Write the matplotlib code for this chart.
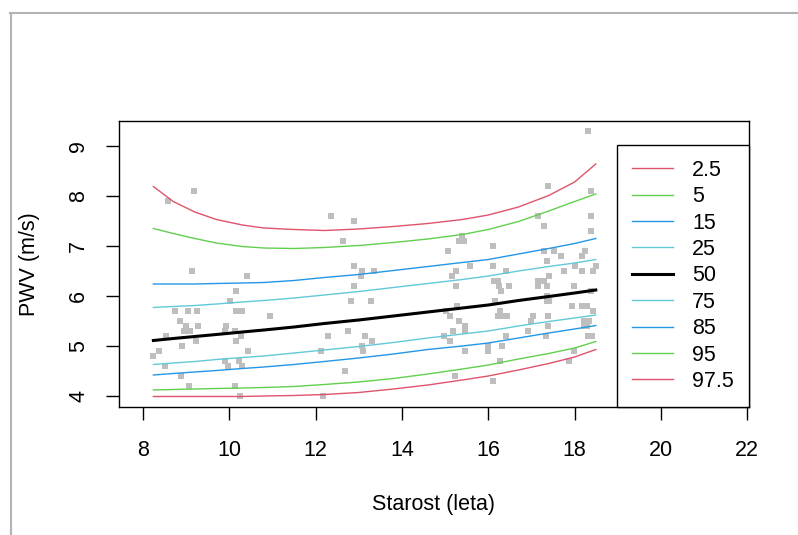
import matplotlib
matplotlib.use('Agg')
import matplotlib.pyplot as plt
from matplotlib.lines import Line2D

plt.rcParams['font.family'] = ['Liberation Sans', 'DejaVu Sans']

# measured points (age, PWV)
age = [9.19, 8.59, 9.13, 10.40, 10.15, 10.01, 8.73, 9.04, 9.25, 10.15, 10.29, 8.86, 9.00, 9.27,
       9.92, 8.96, 9.10, 9.91, 10.14, 8.54, 10.26, 9.22, 10.16, 8.90, 8.38, 10.43, 8.24, 9.89,
       10.23, 8.51, 9.98, 10.29, 8.87, 9.07, 10.13, 10.25,
       12.36, 12.90, 12.64, 12.90, 13.07, 13.05, 13.36, 12.90, 12.82, 13.28, 10.94, 12.74, 12.28,
       13.14, 13.30, 12.13, 13.07, 13.10, 12.67, 12.18,
       15.39, 15.33, 15.44, 15.07, 15.58, 15.26, 15.16, 15.26, 15.27, 15.02, 15.11, 15.33, 15.46,
       15.45, 15.19, 14.98, 15.11, 15.46, 16.00, 16.00, 15.22,
       18.31, 17.39, 18.38, 17.15, 17.29, 18.38, 18.38, 16.10, 17.29, 17.52, 17.69, 18.24, 18.18,
       17.36, 16.10, 18.01, 18.49, 16.41, 17.76, 18.17, 18.43, 17.41, 16.14, 16.23, 16.25, 16.30,
       16.49, 17.15, 17.15, 17.29, 17.36, 17.99, 17.36, 17.36, 17.41, 16.16, 18.39, 17.94, 18.16,
       18.29, 16.27, 16.22, 16.35, 16.43, 17.03, 16.99, 17.39, 17.39, 18.43, 18.21, 18.34, 18.21,
       18.29, 16.93, 16.41, 17.34, 18.30, 18.40, 16.31, 16.26, 17.99, 17.86, 16.10]
pwv = [8.1, 7.9, 6.5, 6.4, 6.1, 5.9, 5.7, 5.7, 5.7, 5.7, 5.7, 5.5, 5.4, 5.4,
       5.4, 5.3, 5.3, 5.3, 5.3, 5.2, 5.2, 5.1, 5.1, 5.0, 4.9, 4.9, 4.8, 4.7,
       4.7, 4.6, 4.6, 4.6, 4.4, 4.2, 4.2, 4.0,
       7.6, 7.5, 7.1, 6.6, 6.5, 6.4, 6.5, 6.2, 5.9, 5.9, 5.6, 5.3, 5.2,
       5.2, 5.1, 4.9, 5.0, 4.9, 4.5, 4.0,
       7.2, 7.1, 7.1, 6.9, 6.6, 6.5, 6.4, 6.2, 5.8, 5.7, 5.6, 5.5, 5.4,
       5.3, 5.3, 5.2, 5.1, 4.9, 5.0, 4.9, 4.4,
       9.3, 8.2, 8.1, 7.6, 7.4, 7.6, 7.3, 7.0, 6.9, 6.9, 6.8, 6.9, 6.8,
       6.7, 6.6, 6.6, 6.6, 6.5, 6.5, 6.5, 6.5, 6.4, 6.3, 6.3, 6.2, 6.1,
       6.2, 6.3, 6.2, 6.3, 6.2, 6.2, 6.0, 5.9, 5.9, 5.9, 6.1, 5.8, 5.8,
       5.8, 5.7, 5.6, 5.6, 5.6, 5.6, 5.5, 5.6, 5.4, 5.7, 5.5, 5.5, 5.4,
       5.4, 5.3, 5.2, 5.2, 5.2, 5.2, 5.0, 4.7, 4.9, 4.7, 4.3]

# percentile curves read at these ages
curve_age = [8.24, 8.7, 9.2, 9.7, 10.3, 10.8, 11.5, 12.2, 13.0, 13.8, 14.6, 15.4, 16.0, 16.7, 17.4, 18.0, 18.49]
p2_5 = [3.99, 3.99, 3.99, 3.99, 3.99, 4.00, 4.01, 4.03, 4.07, 4.14, 4.22, 4.32, 4.40, 4.52, 4.65, 4.78, 4.93]
p5 = [4.12, 4.13, 4.14, 4.15, 4.16, 4.17, 4.19, 4.23, 4.28, 4.35, 4.44, 4.54, 4.62, 4.74, 4.85, 4.96, 5.09]
p15 = [4.42, 4.45, 4.48, 4.51, 4.55, 4.58, 4.63, 4.69, 4.76, 4.84, 4.93, 5.00, 5.06, 5.16, 5.26, 5.34, 5.41]
p25 = [4.63, 4.66, 4.69, 4.73, 4.77, 4.80, 4.86, 4.92, 4.99, 5.07, 5.16, 5.24, 5.30, 5.40, 5.49, 5.56, 5.62]
p50 = [5.11, 5.15, 5.19, 5.23, 5.28, 5.32, 5.38, 5.45, 5.52, 5.60, 5.68, 5.76, 5.82, 5.91, 5.99, 6.06, 6.12]
p75 = [5.77, 5.79, 5.81, 5.84, 5.88, 5.91, 5.96, 6.02, 6.09, 6.17, 6.25, 6.33, 6.40, 6.50, 6.59, 6.66, 6.73]
p85 = [6.24, 6.24, 6.24, 6.25, 6.26, 6.27, 6.31, 6.37, 6.43, 6.51, 6.59, 6.67, 6.73, 6.84, 6.95, 7.05, 7.15]
p95 = [7.35, 7.25, 7.15, 7.06, 6.99, 6.96, 6.95, 6.97, 7.01, 7.07, 7.14, 7.23, 7.33, 7.49, 7.70, 7.89, 8.04]
p97_5 = [8.19, 7.89, 7.68, 7.53, 7.42, 7.36, 7.33, 7.31, 7.34, 7.39, 7.45, 7.53, 7.62, 7.78, 8.01, 8.28, 8.64]

labels = ['2.5', '5', '15', '25', '50', '75', '85', '95', '97.5']
curves = [p2_5, p5, p15, p25, p50, p75, p85, p95, p97_5]
colors = ['#DF536B', '#61D04F', '#2297E6', '#62C9D8', 'black', '#62C9D8', '#2297E6', '#61D04F', '#DF536B']

FS = 15.5

fig = plt.figure(figsize=(7.98, 5.35), dpi=100)
ax = fig.add_axes([119 / 798, 1 - 407 / 535, 630 / 798, 286 / 535])

ax.plot(age, pwv, 's', color='#BEBEBE', markersize=3.9, markeredgewidth=0)

handles = []
for lab, c, col in zip(labels, curves, colors):
    lw = 2.2 if lab == '50' else 1.0
    h, = ax.plot(curve_age, c, color=col, lw=lw)
    handles.append(h)

ax.set_xlim(7.444, 22.04)
ax.set_ylim(3.78, 9.50)
ax.set_xticks([8, 10, 12, 14, 16, 18, 20, 22])
ax.set_yticks([4, 5, 6, 7, 8, 9])
ax.tick_params(length=9.4, width=1, labelsize=FS)
ax.tick_params(axis='x', pad=14)
ax.tick_params(axis='y', labelrotation=90, pad=12)
for t in ax.get_yticklabels():
    t.set_va('center')
for s in ax.spines.values():
    s.set_linewidth(1)

ax.set_xlabel('Starost (leta)', fontsize=FS, labelpad=24)
ax.set_ylabel('PWV (m/s)', fontsize=FS, labelpad=20)

leg = ax.legend(handles, labels, loc='lower right', borderaxespad=0, fontsize=FS,
                fancybox=False, edgecolor='black', framealpha=1, handlelength=1.9,
                handletextpad=0.88, labelspacing=0.25, borderpad=0.7)
leg.get_frame().set_linewidth(1)

# outer frame (top and left edges only)
fig.add_artist(Line2D([10 / 798, 1], [1 - 13 / 535, 1 - 13 / 535], color='#B3B3B3', lw=1.5))
fig.add_artist(Line2D([11 / 798, 11 / 798], [0, 1 - 13 / 535], color='#B3B3B3', lw=1.5))

fig.savefig('out.png', dpi=100)
